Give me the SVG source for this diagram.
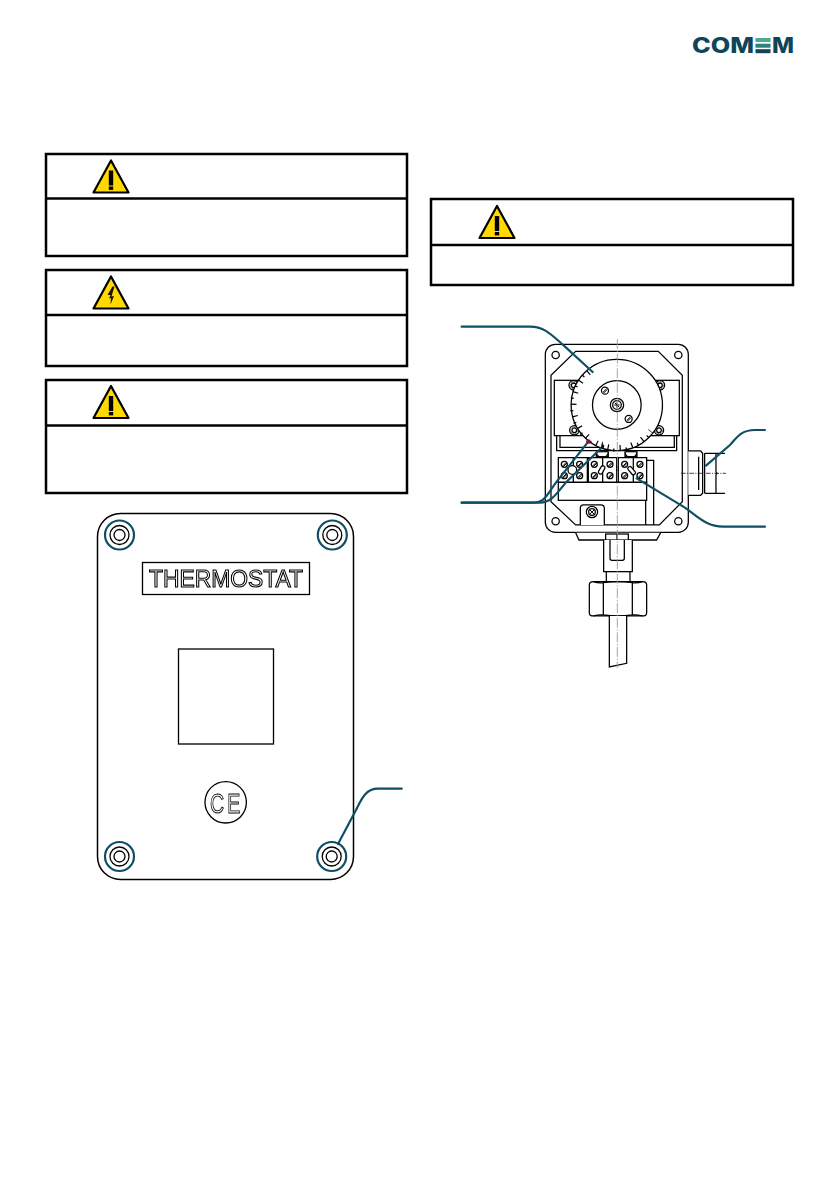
<svg xmlns="http://www.w3.org/2000/svg" width="840" height="1192" viewBox="0 0 840 1192">
<style>
.box{fill:#fff;stroke:#000;stroke-width:2.5}
.div{fill:none;stroke:#000;stroke-width:2.5}
.tri{fill:#ffd900;stroke:#000;stroke-width:2.2;stroke-linejoin:round}
.ln{fill:none;stroke:#000;stroke-width:1.3}
.z{fill:#fff;stroke:#000;stroke-width:3.8}
.zn{fill:none;stroke:#000;stroke-width:3.8}
.zt{fill:none;stroke:#000;stroke-width:3}
.cl{fill:none;stroke:#999;stroke-width:2.6;stroke-dasharray:30 5 4 5}
.lead{fill:none;stroke:#0f4f66;stroke-width:2.2;stroke-linecap:round}
.logo{font-family:"Inter","Liberation Sans",sans-serif;font-weight:800;font-size:21px;fill:#0f4559}
.outl{font-family:"Liberation Sans",Arial,sans-serif;fill:none;stroke:#000;filter:url(#gray)}
</style>
<defs>
<filter id="gray" x="-10%" y="-30%" width="120%" height="160%"><feOffset dx="0" dy="0"/></filter>
<g id="warn"><path class="tri" d="M0,0L17.500,32H-17.500Z"/><rect x="-2.200" y="10" width="4.400" height="15"/><rect x="-2.200" y="26" width="4.400" height="3.400"/></g>
<g id="bolt"><path class="tri" d="M0,0L17.500,32H-17.500Z"/><path d="M1.500,10L-3.500,18.500L-0.500,18.500L-2,22L0,21.500L-0.500,28L3,19.500L0.500,20L1.500,16.500L3.500,10Z" fill="#111"/></g>
<g id="screw"><circle r="14.500" fill="#fff" stroke="#0f4f66" stroke-width="2.200"/><circle r="9.500" fill="none" stroke="#000" stroke-width="1.300"/><circle r="5.500" fill="none" stroke="#000" stroke-width="1.300"/></g>
<g id="slot"><circle r="9" class="z"/><path d="M-5,5L5,-5M-3,7L7,-3" class="zt"/></g>
<g id="hexs"><circle r="14" class="z"/><circle r="7" class="zn"/><circle r="10.500" fill="none" stroke="#555" stroke-width="3" stroke-dasharray="5 3"/></g>
</defs>

<g id="logo">
<text class="logo" x="692" y="53" textLength="62" lengthAdjust="spacingAndGlyphs">COM</text>
<rect x="755.500" y="38" width="15" height="4" fill="#4fa896"/>
<rect x="755.500" y="43.700" width="15" height="4" fill="#2f7f7a"/>
<rect x="755.500" y="49.200" width="15" height="4" fill="#0f4559"/>
<text class="logo" x="772" y="53" textLength="22" lengthAdjust="spacingAndGlyphs">M</text>
</g>

<g id="warning-1"><rect class="box" x="46" y="154" width="361" height="102"/><path class="div" d="M46,198.500H407"/><use href="#warn" x="111" y="160.500"/></g>
<g id="warning-2"><rect class="box" x="46" y="270" width="361" height="96"/><path class="div" d="M46,315H407"/><use href="#bolt" x="111" y="276.500"/></g>
<g id="warning-3"><rect class="box" x="46" y="380" width="361" height="113"/><path class="div" d="M46,425.500H407"/><use href="#warn" x="111" y="386"/></g>
<g id="warning-4"><rect class="box" x="431" y="199" width="362" height="86"/><path class="div" d="M431,245H793"/><use href="#warn" x="497" y="206"/></g>

<g id="plate">
<rect class="ln" x="97.500" y="513.500" width="256" height="366" rx="23" style="stroke-width:1.500"/>
<rect class="ln" x="142.500" y="562.500" width="167" height="32"/>
<text class="outl" x="149" y="587.300" font-size="24" textLength="154" lengthAdjust="spacingAndGlyphs" stroke-width="1.100">THERMOSTAT</text>
<circle class="ln" cx="225.700" cy="802.300" r="20.700"/>
<text class="outl" transform="translate(210,812.700) scale(0.7,1)" x="0 24.500" font-size="28" stroke-width="1">CE</text>
<rect class="ln" x="178.500" y="649" width="95" height="95"/>
<use href="#screw" x="119.500" y="535"/>
<use href="#screw" x="332.300" y="535"/>
<use href="#screw" x="119.500" y="856.500"/>
<use href="#screw" x="331.700" y="856.500"/>
</g>

<g id="thermostat-head" transform="translate(430,310) scale(0.3333)">
<rect class="z" x="346" y="103" width="429" height="564" rx="30"/>
<path class="zn" d="M437,124H685L757,196V575L688,645H437L363,575V196Z"/>
<circle class="z" cx="377" cy="135" r="11"/><circle class="z" cx="745" cy="135" r="11"/><circle class="z" cx="377" cy="634" r="11"/><circle class="z" cx="745" cy="634" r="11"/>
<rect class="z" x="373" y="211" width="375" height="166"/>
<path class="zn" d="M380,377V422H740V377M390,377V412H733V377"/>
<use href="#hexs" x="431" y="226"/><use href="#hexs" x="690" y="226"/><use href="#hexs" x="433" y="361"/><use href="#hexs" x="687" y="361"/>
<path class="z" d="M499,425A18,18 0 0 0 535,425V440H499ZM585,425A18,18 0 0 0 621,425V440H585Z"/>
<rect x="584" y="422" width="38" height="5" fill="#111"/><rect x="498" y="422" width="38" height="5" fill="#111"/>
<circle class="z" cx="560.500" cy="285" r="137"/>
<path class="zt" pathLength="193" stroke-dasharray="1.600 14.400" d="M477,187A128.500,128.500 0 1 0 662,363" style="stroke-width:17"/>
<path class="zt" pathLength="193" stroke-dasharray="1.600 14.400" stroke-dashoffset="-8" d="M475,184A132.500,132.500 0 1 0 665,365" style="stroke-width:9"/>
<circle class="z" cx="560.500" cy="285" r="73"/>
<circle class="z" cx="561" cy="285" r="20"/><circle class="zn" cx="561" cy="285" r="13"/>
<path class="zt" d="M553,285H569M561,277V293M554,278L568,292"/>
<g transform="translate(525,242)"><circle r="10.500" class="z"/><path class="zt" d="M-6,5L5,-6M-4,7L7,-4"/></g>
<g transform="translate(596,327)"><circle r="10.500" class="z"/><path class="zt" d="M-6,5L5,-6M-4,7L7,-4"/></g>
<path class="z" d="M385,443H472V517H385ZM475,443H560V517H475ZM565,443H650V517H565Z"/>
<rect class="z" x="385" y="517" width="265" height="54"/>
<path class="zn" d="M430,443V517M518,443V517M610,443V517M650,451H671V645M647,571V645"/>
<circle class="z" cx="427" cy="480" r="13"/>
<g transform="translate(515,480) rotate(30)"><rect x="-6" y="-13" width="12" height="26" rx="5" class="z"/></g>
<g transform="translate(605,482) rotate(-40)"><rect x="-6" y="-14" width="12" height="28" rx="5" class="z"/></g>
<use href="#slot" x="403" y="463"/><use href="#slot" x="449" y="463"/><use href="#slot" x="403" y="497"/><use href="#slot" x="449" y="497"/>
<use href="#slot" x="493" y="463"/><use href="#slot" x="540" y="463"/><use href="#slot" x="493" y="497"/><use href="#slot" x="540" y="497"/>
<use href="#slot" x="584" y="463"/><use href="#slot" x="630" y="463"/><use href="#slot" x="584" y="497"/><use href="#slot" x="630" y="497"/>
<path class="z" d="M451,645V595Q451,585 461,585H513Q523,585 523,595V645"/>
<circle class="z" cx="486" cy="606" r="17"/><circle class="zn" cx="486" cy="606" r="10"/><path class="zt" d="M480,600L492,612M480,612L492,600"/>
<path class="z" d="M775,423H812L818,430V550L812,556H775"/>
<path class="zn" d="M806,440V540"/>
<path class="zn" d="M824,430H885M824,550H885M824,430V550M858,430V485Q858,490 863,490Q858,490 858,495V550"/>
<path d="M753,490H888" fill="none" stroke="#111" stroke-width="2.400" stroke-dasharray="14 4 3 4"/>
</g>

<g id="sensor-stem" transform="translate(530,520) scale(0.3333)">
<path class="z" d="M137,38L147,60H380L392,38"/>
<rect class="z" x="227" y="42" width="68" height="18"/>
<path class="zn" d="M261,42V60"/>
<path class="z" d="M221,60V155H307V60"/>
<path class="zn" d="M240,60V115Q240,121 246,121H277Q283,121 283,115V60"/>
<rect class="z" x="229" y="155" width="71" height="30"/>
<path class="z" d="M190,185H338Q350,185 350,195V278Q350,288 338,288H190Q178,288 178,278V195Q178,185 190,185Z"/>
<path class="zn" d="M220,188V285M307,188V285M190,185Q205,190 220,188Q264,182 307,188Q322,190 338,185M190,288Q205,284 220,285Q264,292 307,285Q322,284 338,288"/>
<path class="z" d="M238,288V441L290,430V288"/>
</g>

<g id="connectors">
<path class="cl" transform="translate(430,310) scale(0.3333)" d="M562,87V1074"/>
<g transform="translate(430,310) scale(0.3333)">
<path class="lead" style="stroke-width:6.500" d="M95,50H300C345,50 365,75 405,110L488,186"/>
<path class="lead" style="stroke-width:6.500" d="M95,578H310C345,578 350,555 380,515L475,395"/>
<path class="lead" style="stroke-width:6.500" d="M95,578H330C365,578 380,550 410,515L520,408"/>
<path class="lead" style="stroke-width:6.500" d="M1005,650H880C825,650 800,615 760,590L620,505"/>
<path class="lead" style="stroke-width:6.500" d="M1005,360H975C930,360 920,385 900,405L828,467"/>
</g>
<circle cx="588.300" cy="441.500" r="2.200" fill="#8a1538"/>
<path d="M600.500,448L602.500,441L604,448Z" fill="#111"/>
<path class="lead" d="M401.700,788.700H378C366,788.700 362,798 356,810L338,844"/>
</g>
</svg>
